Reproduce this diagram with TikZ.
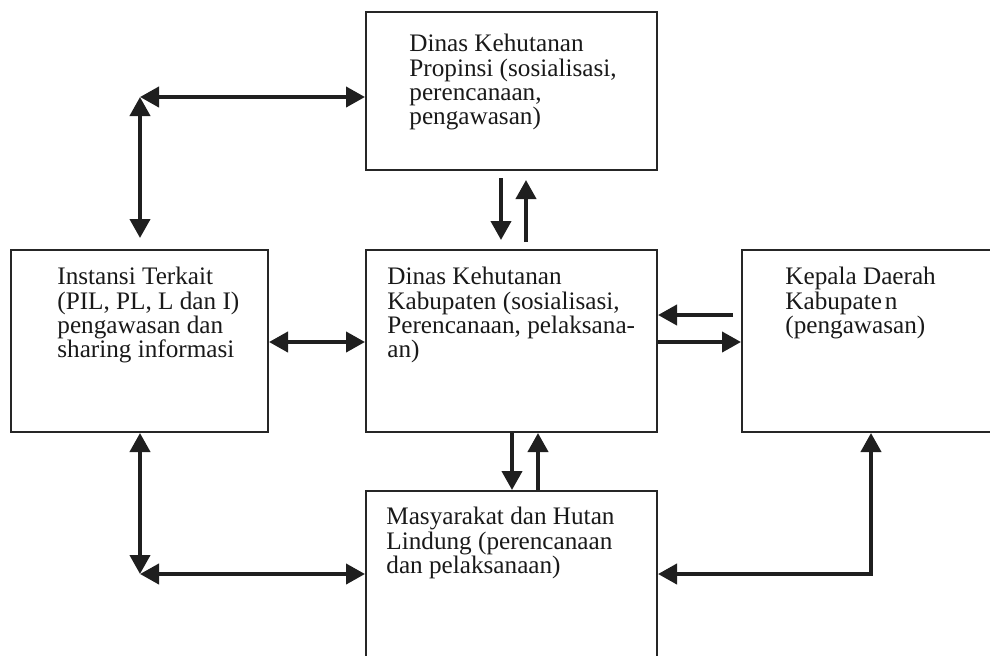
\documentclass[tikz,border=0pt]{standalone}
\usepackage{fontspec}
\setmainfont{Liberation Serif}
\usetikzlibrary{arrows.meta}
\begin{document}
\begin{tikzpicture}[x=0.5pt,y=-0.5pt,
  box/.style={draw=black!85,line width=1pt,rectangle,inner sep=0pt},
  txt/.style={anchor=north west,inner sep=0pt,align=left,
    font=\fontsize{12.6}{12.1}\selectfont,text=black!90},
  conn/.style={line width=2pt,draw=black!88,line join=miter,
    arrows={-Triangle[length=9.5pt,width=10pt]}},
  bi/.style={conn,arrows={Triangle[length=9.5pt,width=10pt]-Triangle[length=9.5pt,width=10pt]}},
  uni/.style={conn}]
\useasboundingbox (0,0) rectangle (990,655);
\clip (0,0) rectangle (990,655);
% boxes
\node[box,minimum width=145.5pt,minimum height=79pt] (top) at (511.5,91) {};
\node[box,minimum width=145.5pt,minimum height=91pt] (mid) at (511.5,341) {};
\node[box,minimum width=128.5pt,minimum height=91pt] (left) at (139.5,341) {};
\node[box,minimum width=140pt,minimum height=91pt] (kep) at (882,341) {};
\node[box,minimum width=145.5pt,minimum height=120pt] (bot) at (511.5,611) {};
% texts
\node[txt] (ttop) at (409,34) {\vphantom{(}Dinas Kehutanan\\Propinsi (sosialisasi,\\perencanaan,\\pengawasan)};
\node[txt] (tmid) at (387,267) {\vphantom{(}Dinas Kehutanan\\Kabupaten (sosialisasi,\\Perencanaan, pelaksana-\\an)};
\node[txt] (tleft) at (57,267) {\vphantom{(}Instansi Terkait\\(PIL, PL, L dan I)\\pengawasan dan\\sharing informasi};
\node[txt] (tkep) at (785,267) {\vphantom{(}Kepala Daerah\\Kabupate\hspace{1.5pt}n\\(pengawasan)};
\node[txt] (tbot) at (386,507) {\vphantom{(}Masyarakat dan Hutan\\Lindung (perencanaan\\dan pelaksanaan)};
% free-end coordinates
\coordinate (c1) at (140,97);
\coordinate (c2) at (140,238);
\coordinate (c3) at (140,574);
\coordinate (d1) at (501,178);
\coordinate (d2) at (501,240);
\coordinate (u1) at (526,242);
\coordinate (u2) at (526,180);
\coordinate (k1) at (733,315);
\coordinate (r1) at (871,574);
% connectors
\draw[bi] (c1) -- (c1 -| top.west);
\draw[bi] (c1) -- (c2);
\draw[uni] (d1) -- (d2);
\draw[uni] (u1) -- (u2);
\draw[bi] (left.east |- 0,342) -- (mid.west |- 0,342);
\draw[uni] (k1) -- (k1 -| mid.east);
\draw[uni] (mid.east |- 0,342) -- (kep.west |- 0,342);
\draw[uni] (mid.south -| 512,0) -- (bot.north -| 512,0);
\draw[uni] (bot.north -| 538,0) -- (mid.south -| 538,0);
\draw[bi] (left.south -| c3) -- (c3);
\draw[bi] (c3) -- (c3 -| bot.west);
\draw[bi] (r1 -| bot.east) -- (r1) -- (kep.south -| r1);
\end{tikzpicture}
\end{document}
